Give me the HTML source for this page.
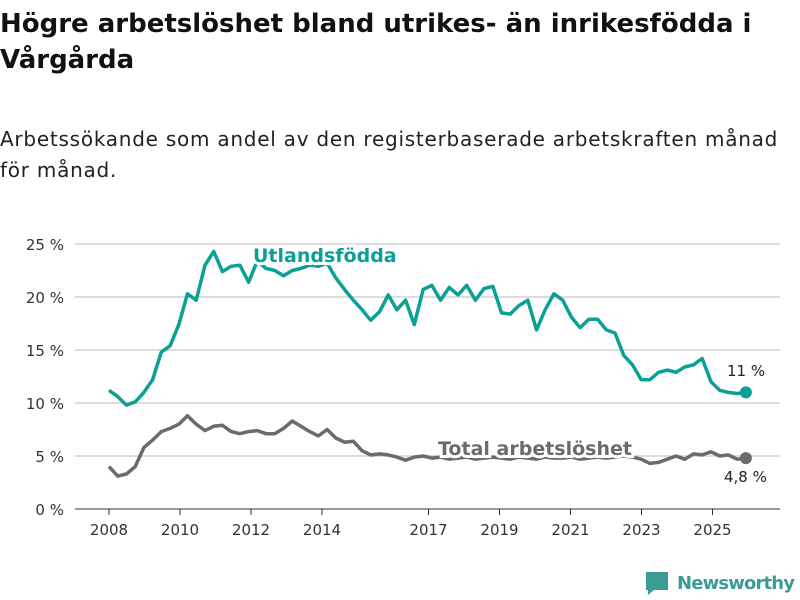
<!DOCTYPE html>
<html><head><meta charset="utf-8"><style>
body{margin:0;width:800px;height:600px;background:#fff;font-family:"DejaVu Sans","Liberation Sans",sans-serif;overflow:hidden;position:relative}
h1{position:absolute;left:0;top:6px;margin:0;font-size:26px;line-height:36px;font-weight:bold;color:#111;width:800px}
.sub{position:absolute;left:0;top:124px;font-size:20px;letter-spacing:0.75px;line-height:31px;color:#222;width:800px}
svg{position:absolute;left:0;top:0}
</style></head><body>
<h1>Högre arbetslöshet bland utrikes- än inrikesfödda i Vårgårda</h1>
<div class="sub">Arbetssökande som andel av den registerbaserade arbetskraften månad för månad.</div>
<svg id="chart" width="800" height="600"></svg>
<script>
const yTicks=[0,5,10,15,20,25];
const xTicks=[2008,2010,2012,2014,2017,2019,2021,2023,2025];
const startYear=2008;
const endYear=2025.94;
const foreign=[11.2,10.6,9.8,10.1,11,12.2,14.8,15.4,17.4,20.3,19.7,23,24.3,22.4,22.9,23,21.4,23.4,22.7,22.5,22,22.5,22.7,23,22.9,23.2,21.8,20.7,19.7,18.8,17.8,18.6,20.2,18.8,19.7,17.4,20.7,21.1,19.7,20.9,20.2,21.1,19.7,20.8,21,18.5,18.4,19.2,19.7,16.9,18.8,20.3,19.7,18.1,17.1,17.9,17.9,16.9,16.6,14.5,13.6,12.2,12.2,12.9,13.1,12.9,13.4,13.6,14.2,12,11.2,11,10.9,11];
const total=[4.0,3.1,3.3,4.0,5.8,6.5,7.3,7.6,8.0,8.8,8.0,7.4,7.8,7.9,7.3,7.1,7.3,7.4,7.1,7.1,7.6,8.3,7.8,7.3,6.9,7.5,6.7,6.3,6.4,5.5,5.1,5.2,5.1,4.9,4.6,4.9,5.0,4.8,4.9,4.7,4.8,4.9,4.7,4.8,4.9,4.8,4.7,4.9,4.8,4.7,4.9,4.8,4.8,4.9,4.7,4.8,4.9,4.8,4.9,5.0,4.9,4.7,4.3,4.4,4.7,5.0,4.7,5.2,5.1,5.4,5.0,5.1,4.7,4.8];
const X=y=>109+(y-2008)*35.5;
const Y=v=>509-v*10.6;
const NS="http://www.w3.org/2000/svg";
const svg=document.getElementById('chart');
function mk(t,a){const e=document.createElementNS(NS,t);for(const k in a)e.setAttribute(k,a[k]);svg.appendChild(e);return e;}
yTicks.forEach(v=>{
 const l=mk('line',{x1:75,x2:780,y1:Y(v),y2:Y(v),stroke:v===0?'#333':'#ddd','stroke-width':v===0?1:2});
 
 
 const t=mk('text',{x:64,y:Y(v)+6,'text-anchor':'end','font-size':15,fill:'#333'});
 t.textContent=v+' %';
 
 
});
xTicks.forEach(yr=>{
 const l=mk('line',{x1:X(yr),x2:X(yr),y1:509,y2:515,stroke:'#333','stroke-width':1});
 
 
 const t=mk('text',{x:X(yr),y:535,'text-anchor':'middle','font-size':15,fill:'#333'});
 t.textContent=yr;
 
 
});
function line(arr,col,name){
 const step=(endYear-startYear)/(arr.length-1);
 const d=arr.map((v,i)=>(i?'L':'M')+X(startYear+i*step).toFixed(1)+','+Y(v).toFixed(1)).join('');
 const p=mk('path',{d:d,fill:'none',stroke:col,'stroke-width':3.5,'stroke-linejoin':'round'});
 
 
 const n=arr.length-1;
 const c=mk('circle',{cx:X(endYear),cy:Y(arr[n]),r:6,fill:col});
 
 
}
line(total,'#6b6b6b','total');
line(foreign,'#0aa096','foreign');
function label(txt,x,y,col,size,w,name){
 const t=mk('text',{x:x,y:y,'font-size':size,'font-weight':w,fill:col,stroke:'#fff','stroke-width':w==='bold'?6:0,'paint-order':'stroke'});
 t.textContent=txt;
 
 
}
label('Utlandsfödda',253,262,'#0aa096',19,'bold','series-label-foreign');
label('Total arbetslöshet',438,455,'#6b6b6b',19,'bold','series-label-total');
label('11 %',727,376,'#222',15,'normal','end-value-foreign');
label('4,8 %',724,482,'#222',15,'normal','end-value-total');
const g=mk('g',{});


const r=document.createElementNS(NS,'path');
r.setAttribute('d','M646,572h22v18h-14l-6,5v-5h-2z');
r.setAttribute('fill','#3a9c95');
g.appendChild(r);
const lt=document.createElementNS(NS,'text');
lt.setAttribute('x',677);lt.setAttribute('y',589);lt.setAttribute('font-size',18);lt.setAttribute('font-weight','bold');lt.setAttribute('fill','#3a9c95');
lt.setAttribute('textLength',118);
lt.textContent='Newsworthy';
g.appendChild(lt);
</script>
</body></html>
